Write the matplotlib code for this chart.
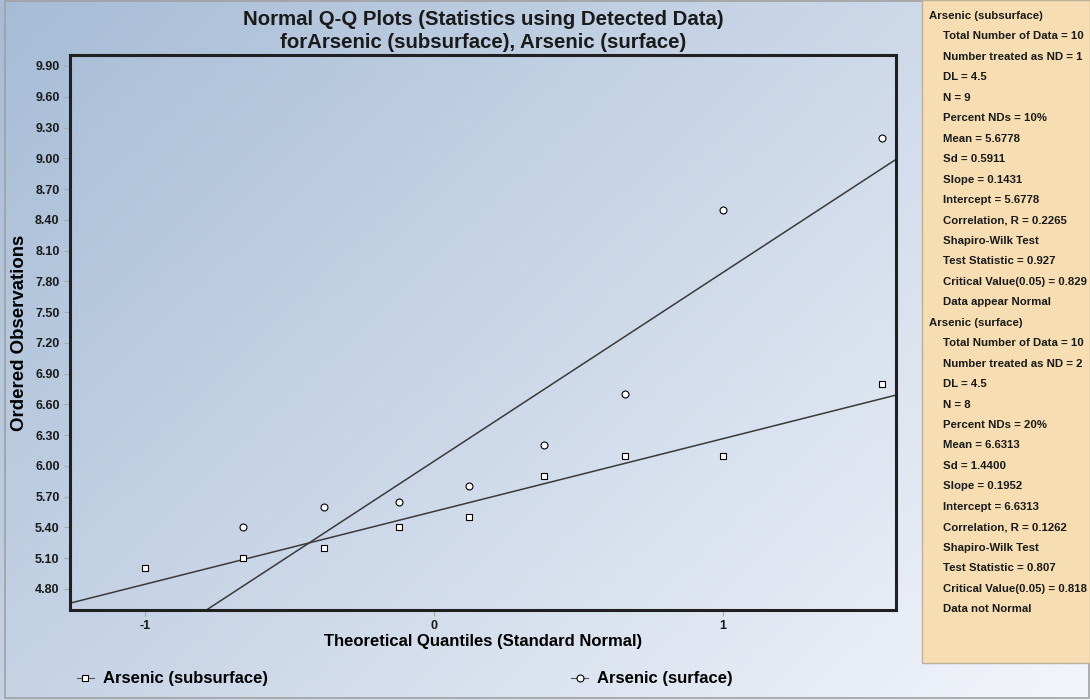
import numpy as np
import matplotlib
matplotlib.use('Agg')
import matplotlib.pyplot as plt
from matplotlib.lines import Line2D
from matplotlib.patches import Rectangle

plt.rcParams['font.family'] = ['Liberation Sans Narrow', 'Liberation Sans', 'DejaVu Sans']

# datos
sub_x = [-1.0, -0.66, -0.38, -0.12, 0.12, 0.38, 0.66, 1.0, 1.55]
sub_y = [5.0, 5.1, 5.2, 5.4, 5.5, 5.9, 6.1, 6.1, 6.8]
surf_x = [-0.66, -0.38, -0.12, 0.12, 0.38, 0.66, 1.0, 1.55]
surf_y = [5.4, 5.6, 5.65, 5.8, 6.2, 6.7, 8.5, 9.2]

y_ticks = [4.80, 5.10, 5.40, 5.70, 6.00, 6.30, 6.60, 6.90, 7.20, 7.50,
           7.80, 8.10, 8.40, 8.70, 9.00, 9.30, 9.60, 9.90]
x_ticks = [-1, 0, 1]

panel_lines = [
    ('Arsenic (subsurface)', 0),
    ('Total Number of Data = 10', 1),
    ('Number treated as ND = 1', 1),
    ('DL = 4.5', 1),
    ('N = 9', 1),
    ('Percent NDs = 10%', 1),
    ('Mean = 5.6778', 1),
    ('Sd = 0.5911', 1),
    ('Slope = 0.1431', 1),
    ('Intercept = 5.6778', 1),
    ('Correlation, R = 0.2265', 1),
    ('Shapiro-Wilk Test', 1),
    ('Test Statistic = 0.927', 1),
    ('Critical Value(0.05) = 0.829', 1),
    ('Data appear Normal', 1),
    ('Arsenic (surface)', 0),
    ('Total Number of Data = 10', 1),
    ('Number treated as ND = 2', 1),
    ('DL = 4.5', 1),
    ('N = 8', 1),
    ('Percent NDs = 20%', 1),
    ('Mean = 6.6313', 1),
    ('Sd = 1.4400', 1),
    ('Slope = 0.1952', 1),
    ('Intercept = 6.6313', 1),
    ('Correlation, R = 0.1262', 1),
    ('Shapiro-Wilk Test', 1),
    ('Test Statistic = 0.807', 1),
    ('Critical Value(0.05) = 0.818', 1),
    ('Data not Normal', 1),
]

W, H = 1090, 700
fig = plt.figure(figsize=(W / 100, H / 100), dpi=100)

# fondo degradado (oscuro arriba a la izquierda, claro abajo a la derecha)
bg = fig.add_axes([0, 0, 1, 1], zorder=-10)
gx, gy = np.meshgrid(np.linspace(0, 1, 200), np.linspace(0, 1, 200))
t = np.clip((gx * 0.6 + gy * 0.4), 0, 1)
c0 = np.array([166, 188, 214]) / 255
c1 = np.array([243, 245, 251]) / 255
img = c0[None, None, :] * (1 - t[..., None]) + c1[None, None, :] * t[..., None]
bg.imshow(img, extent=[0, W, H, 0], aspect='auto', origin='upper')
bg.set_xlim(0, W)
bg.set_ylim(H, 0)
bg.axis('off')
bg.add_patch(Rectangle((5, 1), W - 6, H - 3, fill=False, edgecolor='#a0a0a0', lw=1.2))

# panel lateral
bg.add_patch(Rectangle((922, 0), W - 922, 663, facecolor='#f6deb2', edgecolor='#bdb09a', lw=1))
for i, (txt, lvl) in enumerate(panel_lines):
    bg.text(929 + 14 * lvl, 16 + i * 20.45, txt, fontsize=8.2, fontweight='bold',
            va='center', ha='left', color='#1a1a1a')

ax = fig.add_axes([70 / W, 90 / H, 826 / W, 555 / H])
ax.set_facecolor('none')

ax.plot(sub_x, sub_y, ls='none', marker='s', ms=4.5, mfc='white', mec='black', mew=0.8, zorder=3)
ax.plot(surf_x, surf_y, ls='none', marker='o', ms=5, mfc='white', mec='black', mew=0.8, zorder=3)

xs = np.array([-1.3, 1.65])
b1, a1 = np.polyfit(sub_x, sub_y, 1)
b2, a2 = np.polyfit(surf_x, surf_y, 1)
ax.plot(xs, a1 + b1 * xs, color='#3a3a3a', lw=1.1, zorder=2)
ax.plot(xs, a2 + b2 * xs, color='#3a3a3a', lw=1.1, zorder=2)

ax.set_xlim(-1.26, 1.60)
ax.set_ylim(4.595, 10.007)
ax.set_yticks(y_ticks)
ax.set_yticklabels(['%.2f' % v for v in y_ticks])
ax.set_xticks(x_ticks)
ax.set_xticklabels([str(v) for v in x_ticks])
ax.tick_params(axis='both', labelsize=9, colors='#aaaaaa', labelcolor='#1a1a1a', length=4, width=0.8)
for lab in ax.get_xticklabels() + ax.get_yticklabels():
    lab.set_fontweight('bold')
for s in ax.spines.values():
    s.set_linewidth(2.2)
    s.set_color('#202020')

ax.set_xlabel('Theoretical Quantiles (Standard Normal)', fontsize=12, fontweight='bold', labelpad=1)
ax.set_ylabel('Ordered Observations', fontsize=13.4, fontweight='bold', labelpad=5)
ax.set_title('Normal Q-Q Plots (Statistics using Detected Data)\nforArsenic (subsurface), Arsenic (surface)',
             fontsize=14.7, fontweight='bold', pad=5, color='#1a1a1a', linespacing=1.25)

handles = [
    Line2D([], [], color='#555555', lw=0.8, marker='s', ms=4.5, mfc='white', mec='black', mew=0.8),
    Line2D([], [], color='#555555', lw=0.8, marker='o', ms=5, mfc='white', mec='black', mew=0.8),
]
leg = fig.legend(handles, ['Arsenic (subsurface)', 'Arsenic (surface)'], loc='center left',
                 bbox_to_anchor=(77 / W, 21 / H), ncol=2, frameon=False, handlelength=1.0,
                 handletextpad=0.55, columnspacing=18.2, borderpad=0, borderaxespad=0,
                 prop={'weight': 'bold', 'size': 12})

fig.savefig('out.png', dpi=100)
